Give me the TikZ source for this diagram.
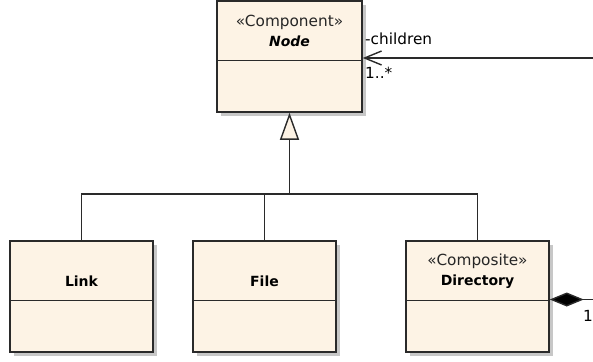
\documentclass[tikz,border=0pt]{standalone}
\usepackage{fontspec}
\setmainfont{DejaVu Sans}
\usetikzlibrary{arrows.meta,shadows}
\definecolor{classfill}{HTML}{FDF3E5}
\definecolor{edgegray}{HTML}{2A2A2A}
\begin{document}
\begin{tikzpicture}[
    x=1pt, y=-1pt,
    umlclass/.style={draw=edgegray, fill=classfill, line width=1.5pt, minimum width=143pt,
        minimum height=111pt, inner sep=0pt,
        drop shadow={shadow xshift=4pt, shadow yshift=-4pt, fill=black!22, opacity=1}},
    stereo/.style={font=\fontsize{15.3}{17}\selectfont, text=black!85, inner sep=0pt},
    cname/.style={font=\fontsize{14}{17}\selectfont\bfseries, inner sep=0pt},
    lbl/.style={font=\fontsize{15.3}{17}\selectfont, anchor=west, inner sep=0pt},
    wire/.style={draw=edgegray, line width=1.4pt}
]
    \useasboundingbox (0,0) rectangle (593,361);

    % Classes
    \node[umlclass, minimum width=145pt] (component) at (289.5,56.5) {};
    \node[umlclass] (link) at (81.5,296.5) {};
    \node[umlclass] (file) at (264.5,296.5) {};
    \node[umlclass] (directory) at (477.5,296.5) {};

    % Compartments
    \foreach \c in {component,link,file,directory}
        \draw[wire, line width=1.5pt] ([yshift=-60pt]\c.north west) -- ([yshift=-60pt]\c.north east);

    % Class names
    \node[stereo] (compstereo) at ([yshift=-22pt]component.north) {«Component»};
    \node[cname, font=\fontsize{14}{17}\selectfont\bfseries\itshape] (compname) at ([yshift=-41pt]component.north) {Node};
    \node[cname] (linkname) at ([yshift=-41pt]link.north) {Link};
    \node[cname] (filename) at ([yshift=-41pt]file.north) {File};
    \node[stereo] (dirstereo) at ([yshift=-21pt]directory.north) {«Composite»};
    \node[cname] (dirname) at ([yshift=-41pt]directory.north) {Directory};

    % Generalization
    \coordinate (join) at (289.5,194);
    \draw[wire] (link.north) |- (join) -| (directory.north);
    \draw[wire] (file.north) -- (file.north |- join);
    \draw[wire, -{Triangle[length=27pt, width=19pt, fill=classfill]}] (join) -- (component.south);

    % Associations
    \coordinate (childend) at (593,58);
    \draw[wire, -{Straight Barb[length=17pt, width=14pt]}] (childend) -- (childend -| component.east);
    \node[lbl] (rolename) at (365,39) {-children};
    \node[lbl] (mult) at (365,73) {1..*};

    \coordinate (wholeend) at (593,299.5);
    \draw[wire, -{Diamond[length=34pt, width=14pt, fill=black]}] (wholeend) -- (wholeend -| directory.east);
    \node[lbl, anchor=east] (wholemult) at (593,316) {1};
\end{tikzpicture}
\end{document}
